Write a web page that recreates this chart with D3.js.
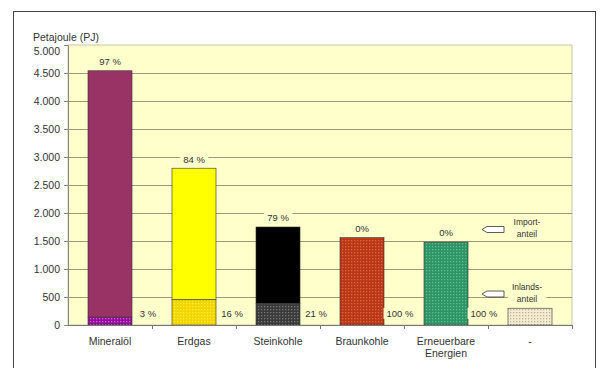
<!DOCTYPE html>
<html><head><meta charset="utf-8">
<script src="https://cdn.jsdelivr.net/npm/d3@7"></script>
<style>body{margin:0;background:#fff}svg{display:block}text{font-family:"Liberation Sans",Arial,sans-serif}</style>
</head><body><svg id="c" width="600" height="368"></svg>
<script>
const categories = ["Mineralöl","Erdgas","Steinkohle","Braunkohle","Erneuerbare Energien","-"];
const inlandValues = [140, 450, 380, 1560, 1480, 300];
const importValues = [4400, 2350, 1370, 0, 0, 0];
const importLabels = ["97 %","84 %","79 %","0%","0%",""];
const inlandLabels = ["3 %","16 %","21 %","100 %","100 %",""];
const yTicks = [0,500,1000,1500,2000,2500,3000,3500,4000,4500,5000];
const importColors = ["#993366","#FFFF00","#000000","#C8431C","#339966","#F3E7C4"];
const inlandBase = ["#8E0F94","#F2D400","#3A3A3A","#B8361A","#2E9466","#F6EDCF"];
const inlandDots = ["#E255E6","#FFF23A","#777777","#E0682F","#5CC08E","#B8B09A"];

const svg = d3.select("#c");
const M = {left:68, right:572, top:45, bottom:325};
const plotBg = "#FFFFCC";

const defs = svg.append("defs");
categories.forEach((c,i)=>{
  const p = defs.append("pattern").attr("id","pat"+i).attr("patternUnits","userSpaceOnUse")
    .attr("width",3).attr("height",3);
  p.append("rect").attr("width",3).attr("height",3).attr("fill",inlandBase[i]);
  p.append("rect").attr("x",0).attr("y",0).attr("width",1.3).attr("height",1.3).attr("fill",inlandDots[i]);
});

svg.append("rect").attr("x",13.5).attr("y",11.5).attr("width",582).attr("height",370)
  .attr("fill","#fff").attr("stroke","#444").attr("stroke-width",1);

const x = d3.scaleBand().domain(categories).range([M.left,M.right]).paddingInner(0.476).paddingOuter(0.238);
const y = d3.scaleLinear().domain([0,5000]).range([M.bottom,M.top]);

svg.append("rect").attr("x",M.left).attr("y",M.top).attr("width",M.right-M.left).attr("height",M.bottom-M.top)
  .attr("fill",plotBg).attr("stroke","#C8C8A8").attr("stroke-width",1);

svg.append("g").selectAll("line").data(yTicks.filter(v=>v>0 && v<5000)).join("line")
  .attr("x1",M.left).attr("x2",M.right).attr("y1",d=>Math.round(y(d))+0.5).attr("y2",d=>Math.round(y(d))+0.5)
  .attr("stroke","#9A9A78").attr("stroke-width",1);

const g = svg.append("g");
categories.forEach((c,i)=>{
  const bx = x(c), bw = x.bandwidth();
  const inl = inlandValues[i], imp = importValues[i];
  if (imp > 0) {
    g.append("rect").attr("x",bx).attr("y",y(inl+imp)).attr("width",bw).attr("height",y(inl)-y(inl+imp))
      .attr("fill",importColors[i]).attr("stroke","#333").attr("stroke-width",0.6);
  }
  g.append("rect").attr("x",bx).attr("y",y(inl)).attr("width",bw).attr("height",y(0)-y(inl))
    .attr("fill","url(#pat"+i+")").attr("stroke","#333").attr("stroke-width",0.6);
});

const fmtLabel = (txt, cx, cy) => {
  if (!txt) return;
  const t = svg.append("text").attr("x",cx).attr("y",cy).attr("dy","0.35em").attr("text-anchor","middle")
    .attr("font-size",9.5).attr("fill","#333").text(txt);
  const bb = t.node().getBBox();
  svg.insert("rect", () => t.node()).attr("x",bb.x-3).attr("y",bb.y).attr("width",bb.width+6).attr("height",bb.height)
    .attr("fill",plotBg);
};
categories.forEach((c,i)=>{
  const cx = x(c)+x.bandwidth()/2;
  fmtLabel(importLabels[i], cx, y(inlandValues[i]+importValues[i]) - 9);
  fmtLabel(inlandLabels[i], x(c)+x.bandwidth()+16, 313.5);
});

const loc = d3.formatLocale({decimal:",", thousands:".", grouping:[3], currency:["",""]});
const fmt = loc.format(",");
const yAxis = svg.append("g").attr("transform",`translate(${M.left},0)`)
  .call(d3.axisLeft(y).tickValues(yTicks).tickFormat(fmt).tickSize(4).tickPadding(4));
yAxis.select(".domain").attr("stroke","#888");
yAxis.selectAll(".tick line").attr("stroke","#888");
yAxis.selectAll("text").attr("font-size",10.5).attr("fill","#333").attr("font-family","Liberation Sans, Arial, sans-serif");
yAxis.selectAll(".tick").filter(d=>d===5000).select("text").attr("dy","0.95em");

const xAxisG = svg.append("g");
xAxisG.append("line").attr("x1",M.left).attr("x2",M.right).attr("y1",M.bottom+0.5).attr("y2",M.bottom+0.5).attr("stroke","#777");
const bounds = categories.map((c,i)=> M.left + i*(M.right-M.left)/categories.length).concat([M.right]);
xAxisG.selectAll("line.t").data(bounds.slice(1)).join("line").attr("class","t")
  .attr("x1",d=>Math.round(d)+0.5).attr("x2",d=>Math.round(d)+0.5).attr("y1",M.bottom).attr("y2",M.bottom+4).attr("stroke","#777");
categories.forEach((c,i)=>{
  const cx = x(c)+x.bandwidth()/2;
  c.split(" ").forEach((p,k)=>{
    svg.append("text").attr("x",cx).attr("y",341 + k*12.5).attr("dy","0.35em").attr("text-anchor","middle")
      .attr("font-size",10.5).attr("fill","#333").text(p);
  });
});

svg.append("text").attr("x",33).attr("y",41).attr("font-size",10.5).attr("fill","#333").text("Petajoule (PJ)");

const legendItems = [{lines:["Import-","anteil"], ay:229.5, ty:[222.5,234]},{lines:["Inlands-","anteil"], ay:294, ty:[287,299]}];
legendItems.forEach(li=>{
  const tg = svg.append("g");
  li.lines.forEach((l,k)=>{
    tg.append("text").attr("x",527).attr("y",li.ty[k]).attr("dy","0.35em").attr("text-anchor","middle")
      .attr("font-size",8.5).attr("fill","#333").text(l);
  });
  const bb = tg.node().getBBox();
  svg.insert("rect", () => tg.node()).attr("x",bb.x-4).attr("y",bb.y-1).attr("width",bb.width+8).attr("height",bb.height+2).attr("fill",plotBg);
  const a = li.ay;
  svg.append("path").attr("d",`M482,${a} L487,${a-3} L504,${a-3} L504,${a+3} L487,${a+3} Z`)
    .attr("fill","#fff").attr("stroke","#333").attr("stroke-width",0.8);
});
</script></body></html>
